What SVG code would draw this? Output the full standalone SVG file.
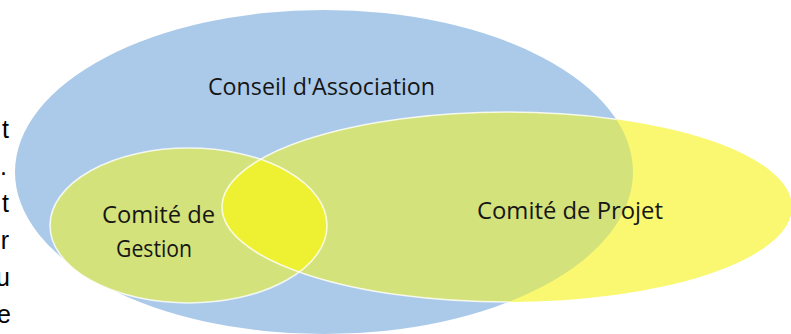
<svg xmlns="http://www.w3.org/2000/svg" width="791" height="334" viewBox="0 0 791 334">
<defs>
<style>
.lbl{font-family:"Open Sans","Noto Sans",sans-serif;font-size:24px;fill:#161616}
.frag{font-family:"Liberation Sans",Arial,sans-serif;font-size:25px;fill:#000;text-anchor:end}
.edge{fill:none;stroke:#ffffff;stroke-opacity:0.8;stroke-width:1.6}
</style>
<clipPath id="clipBlue"><ellipse cx="324" cy="172" rx="309" ry="162"/></clipPath>
<clipPath id="clipGestion"><ellipse cx="188.5" cy="225.5" rx="138.5" ry="77.5"/></clipPath>
</defs>
<rect width="791" height="334" fill="#ffffff"/>
<g id="fragments">
<text class="frag" x="9" y="138">t</text>
<text class="frag" x="7" y="175">.</text>
<text class="frag" x="9" y="212">t</text>
<text class="frag" x="9" y="249">r</text>
<text class="frag" x="10" y="286">u</text>
<text class="frag" x="11" y="323">e</text>
</g>
<g id="conseil">
<ellipse cx="324" cy="172" rx="309" ry="162" fill="#ABCAE9"/>
</g>
<g id="projet">
<ellipse cx="507" cy="207" rx="285" ry="95" fill="#F9F870"/>
<ellipse cx="507" cy="207" rx="285" ry="95" fill="#D3E27A" clip-path="url(#clipBlue)"/>
</g>
<g id="gestion">
<ellipse cx="188.5" cy="225.5" rx="138.5" ry="77.5" fill="#D3E27A"/>
<ellipse cx="507" cy="207" rx="285" ry="95" fill="#EEF032" clip-path="url(#clipGestion)"/>
</g>
<g id="connectors">
<ellipse class="edge" cx="507" cy="207" rx="285" ry="95" clip-path="url(#clipBlue)"/>
<ellipse class="edge" cx="188.5" cy="225.5" rx="138.5" ry="77.5"/>
</g>
<g id="labels">
<text class="lbl" x="208" y="95" textLength="227" lengthAdjust="spacingAndGlyphs">Conseil d'Association</text>
<text class="lbl" x="102" y="223" textLength="113" lengthAdjust="spacingAndGlyphs">Comité de</text>
<text class="lbl" x="116" y="257" textLength="76" lengthAdjust="spacingAndGlyphs">Gestion</text>
<text class="lbl" x="477" y="219" textLength="186" lengthAdjust="spacingAndGlyphs">Comité de Projet</text>
</g>
</svg>
